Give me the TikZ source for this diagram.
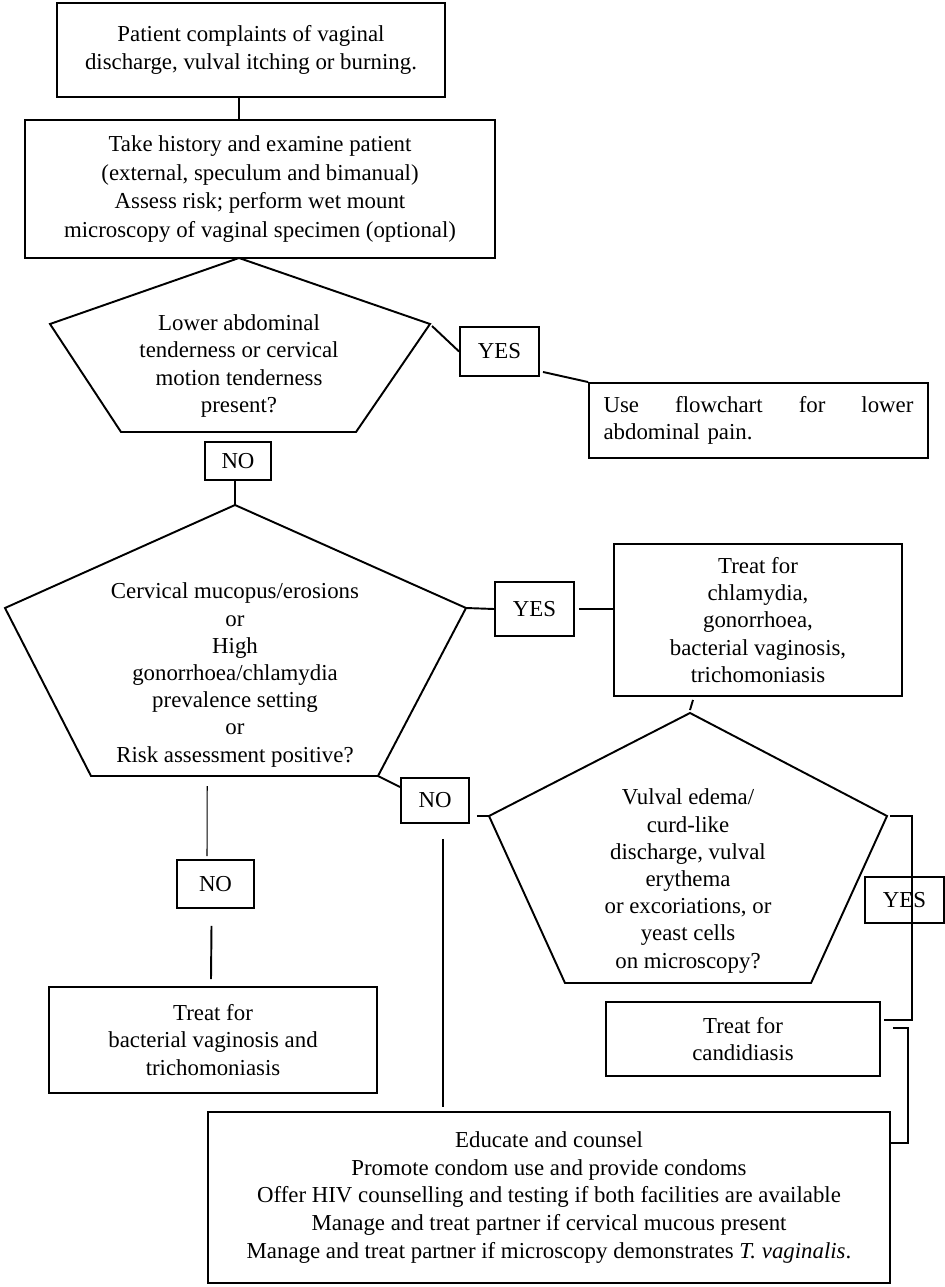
\documentclass[tikz,border=0pt]{standalone}
\usepackage{fontspec}
\setmainfont{Liberation Serif}
\usetikzlibrary{calc}
\tikzset{
  every picture/.style={font=\fontsize{13}{15.5}\selectfont, line width=1.1pt},
  box/.style={draw, align=center, inner sep=0pt},
  tag/.style={draw, inner sep=0pt, minimum width=1.58cm},
  link/.style={draw, line width=1.1pt},
  faint/.style={draw, line width=0.6pt},
  ask/.style={align=center, inner sep=0pt},
}
\begin{document}
\begin{tikzpicture}[x=0.02cm, y=-0.02cm]
  \useasboundingbox (0,0) rectangle (945,1287);
  \node[box, minimum width=7.76cm, minimum height=1.88cm] (start) at (251,50) {Patient complaints of vaginal\\discharge, vulval itching or burning.};
  \node[box, minimum width=9.4cm, minimum height=2.76cm, font=\fontsize{13}{16.4}\selectfont] (exam) at (260,189) {Take history and examine patient\\(external, speculum and bimanual)\\Assess risk; perform wet mount\\microscopy of vaginal specimen (optional)};
  \coordinate (p1t) at (239,258); \coordinate (p1r) at (430,324); \coordinate (p1br) at (356,432);
  \coordinate (p1bl) at (121,432); \coordinate (p1l) at (50,324);
  \draw (p1t) -- (p1r) -- (p1br) -- (p1bl) -- (p1l) -- cycle;
  \node[ask] (q1) at (239,366) {Lower abdominal\\tenderness or cervical\\motion tenderness\\present?};
  \node[tag, minimum height=0.98cm] (yes1) at (499.5,351.5) {YES};
  \node[box, minimum width=6.78cm, minimum height=1.5cm, text width=6.2cm, align=left, inner xsep=0.29cm] (lowpain) at (758.5,420.5) {Use\hfill flowchart\hfill for\hfill lower\\abdominal pain.};
  \node[tag, minimum width=1.32cm, minimum height=0.76cm] (no1) at (238,461) {NO};
  \coordinate (p2t) at (235,505); \coordinate (p2r) at (466,608); \coordinate (p2br) at (378,776);
  \coordinate (p2bl) at (91,776); \coordinate (p2l) at (5,608);
  \draw (p2t) -- (p2r) -- (p2br) -- (p2bl) -- (p2l) -- cycle;
  \node[ask] (q2) at (235,675) {Cervical mucopus/erosions\\or\\High\\gonorrhoea/chlamydia\\prevalence setting\\or\\Risk assessment positive?};
  \node[tag, minimum height=1.08cm] (yes2) at (534.5,609) {YES};
  \node[box, minimum width=5.76cm, minimum height=3.04cm] (treat1) at (758,620) {Treat for\\chlamydia,\\gonorrhoea,\\bacterial vaginosis,\\trichomoniasis};
  \node[tag, minimum width=1.36cm, minimum height=0.9cm] (no2) at (435,800.5) {NO};
  \coordinate (p3t) at (690,713); \coordinate (p3r) at (887,816); \coordinate (p3br) at (811,983);
  \coordinate (p3bl) at (565,983); \coordinate (p3l) at (489,816);
  \draw (p3t) -- (p3r) -- (p3br) -- (p3bl) -- (p3l) -- cycle;
  \node[ask] (q3) at (688,881) {Vulval edema/\\curd-like\\discharge, vulval\\erythema\\or excoriations, or\\yeast cells\\on microscopy?};
  \node[tag, minimum height=0.92cm] (yes3) at (904.5,900) {YES};
  \node[box, minimum width=5.48cm, minimum height=1.48cm] (cand) at (743,1039) {Treat for\\candidiasis};
  \node[tag, minimum width=1.54cm, minimum height=0.96cm] (no3) at (215.5,884) {NO};
  \node[box, minimum width=6.56cm, minimum height=2.12cm] (treat2) at (213,1040) {Treat for\\bacterial vaginosis and\\trichomoniasis};
  \node[box, minimum width=13.64cm, minimum height=3.42cm, font=\fontsize{13}{15.9}\selectfont] (counsel) at (549,1197.5) {Educate and counsel\\Promote condom use and provide condoms\\Offer HIV counselling and testing if both facilities are available\\Manage and treat partner if cervical mucous present\\Manage and treat partner if microscopy demonstrates \textit{T. vaginalis}.};
  \draw[link] (start.south -| p1t) -- (exam.north -| p1t);
  \draw[link] ($(p1r)+(2,2)$) -- (yes1.west);
  \draw[link] ($(yes1.south east)+(3,-5)$) -- (lowpain.north west);
  \draw[link] (no1.south -| p2t) -- (p2t);
  \draw[link] (p2r) -- (yes2.west);
  \draw[link] ($(yes2.east)+(4,0)$) -- (yes2.east -| treat1.west);
  \draw[link] ($(treat1.south -| p3t)+(3,3)$) -- ($(p3t)+(0,-3)$);
  \draw[link] (p2br) -- ($(no2.north west)+(0,10)$);
  \draw[link] ($(no2.east |- p3l)+(7,0)$) -- (p3l);
  \draw[link] ($(p3r)+(3,0)$) -- ++(22,0) |- ($(cand.east)+(3,-19)$);
  \draw[link] ($(cand.east)+(12,-11)$) -- ++(15,0) |- ($(counsel.east)+(0,-54.5)$);
  \draw[faint] ($(no2.south)+(8,15)$) -- ($(counsel.north)+(-106,-4)$);
  \draw[faint] ($(p2bl)!0.405!(p2br)+(0,10)$) -- ($(no3.north)+(-8.5,-3)$);
  \draw[link] ($(no3.south)+(-4,17)$) -- ($(treat2.north)+(-2,-7)$);
\end{tikzpicture}
\end{document}
